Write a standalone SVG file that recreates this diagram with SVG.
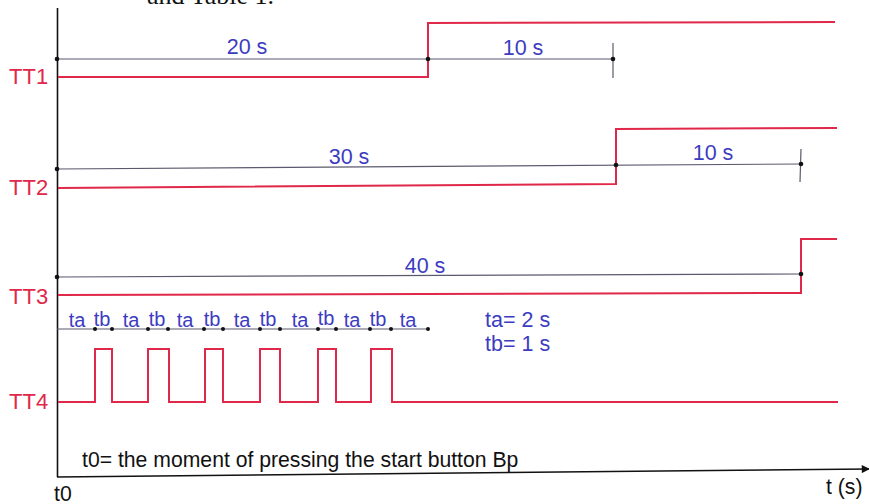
<svg xmlns="http://www.w3.org/2000/svg" width="869" height="504" viewBox="0 0 869 504">
<defs>
<style>
.sig{fill:none;stroke:#e0284a;stroke-width:2}
.dim{fill:none;stroke:#5a5a6e;stroke-width:1.2}
.ax{fill:none;stroke:#111;stroke-width:1.6}
.lbl{font-family:"Liberation Sans",Arial,sans-serif;font-size:22px;fill:#e0284a}
.blue{font-family:"Liberation Sans",Arial,sans-serif;font-size:21.5px;fill:#3c3cc0}
.blk{font-family:"Liberation Sans",Arial,sans-serif;font-size:21.2px;fill:#111}
.dot{fill:#111}
</style>
<marker id="arr" viewBox="0 0 10 10" refX="9" refY="5" markerWidth="11" markerHeight="8" markerUnits="userSpaceOnUse" orient="auto"><path d="M0,0 L10,5 L0,10 z" fill="#111"/></marker>
</defs>
<rect width="869" height="504" fill="#fff"/>
<text x="147" y="4" font-family="Liberation Serif,Times New Roman,serif" font-size="26" fill="#111">and Table 1.</text>

<g id="axes">
<line class="ax" x1="57.5" y1="8" x2="57.5" y2="477"/>
<line class="ax" x1="57" y1="477" x2="869" y2="469" marker-end="url(#arr)"/>
<text class="blk" x="54" y="501">t0</text>
<text class="blk" x="826" y="494">t (s)</text>
<text class="blk" x="82" y="467">t0= the moment of pressing the start button Bp</text>
</g>

<g id="TT1">
<text class="lbl" x="9" y="84">TT1</text>
<polyline class="sig" points="58,77 428,77 428,23 835,22"/>
</g>
<g id="TT2">
<text class="lbl" x="9" y="195">TT2</text>
<polyline class="sig" points="58,188 616,184 616,129 837,128"/>
</g>
<g id="TT3">
<text class="lbl" x="9" y="304">TT3</text>
<polyline class="sig" points="58,295 801,293 801,239 837,239"/>
</g>
<g id="TT4">
<text class="lbl" x="9" y="409">TT4</text>
<polyline class="sig" points="58,402 95,402 95,349 112,349 112,402 148,402 148,349 169,349 169,402 205,402 205,349 223,349 223,402 260,402 260,349 280,349 280,402 318,402 318,349 336,349 336,402 371,402 371,349 392,349 392,402 838,402"/>
</g>

<g id="connectors">
<line class="dim" x1="57" y1="59" x2="613" y2="59"/>
<line class="dim" x1="613" y1="43" x2="613" y2="78"/>
<circle class="dot" cx="57" cy="59" r="2.3"/>
<circle class="dot" cx="428" cy="59" r="2.3"/>
<circle class="dot" cx="613" cy="59" r="2.3"/>
<text class="blue" x="247" y="54" text-anchor="middle">20 s</text>
<text class="blue" x="523" y="55" text-anchor="middle">10 s</text>

<line class="dim" x1="57" y1="169" x2="801" y2="164"/>
<line class="dim" x1="801" y1="149" x2="800" y2="182"/>
<circle class="dot" cx="57" cy="169" r="2.3"/>
<circle class="dot" cx="616" cy="165" r="2.3"/>
<circle class="dot" cx="801" cy="164" r="2.3"/>
<text class="blue" x="349" y="164" text-anchor="middle">30 s</text>
<text class="blue" x="713" y="160" text-anchor="middle">10 s</text>

<line class="dim" x1="57" y1="277" x2="801" y2="274"/>
<circle class="dot" cx="57" cy="277" r="2.3"/>
<circle class="dot" cx="801" cy="274" r="2.3"/>
<text class="blue" x="425" y="273" text-anchor="middle">40 s</text>

<line class="dim" x1="57" y1="329" x2="428" y2="329"/>
<circle class="dot" cx="95" cy="329" r="2"/>
<circle class="dot" cx="112" cy="329" r="2"/>
<circle class="dot" cx="148" cy="329" r="2"/>
<circle class="dot" cx="168" cy="329" r="2"/>
<circle class="dot" cx="204" cy="329" r="2"/>
<circle class="dot" cx="223" cy="329" r="2"/>
<circle class="dot" cx="260" cy="329" r="2"/>
<circle class="dot" cx="280" cy="329" r="2"/>
<circle class="dot" cx="318" cy="329" r="2"/>
<circle class="dot" cx="336" cy="329" r="2"/>
<circle class="dot" cx="370" cy="329" r="2"/>
<circle class="dot" cx="391" cy="329" r="2"/>
<circle class="dot" cx="428" cy="329" r="2"/>
<g class="blue" text-anchor="middle" style="font-size:20px">
<text x="77" y="327">ta</text>
<text x="102" y="326">tb</text>
<text x="131" y="327">ta</text>
<text x="157" y="326">tb</text>
<text x="185" y="327">ta</text>
<text x="212" y="326">tb</text>
<text x="242" y="327">ta</text>
<text x="268" y="326">tb</text>
<text x="300" y="327">ta</text>
<text x="326" y="325">tb</text>
<text x="352" y="327">ta</text>
<text x="378" y="326">tb</text>
<text x="408" y="327">ta</text>
</g>
<text class="blue" x="485" y="327">ta= 2 s</text>
<text class="blue" x="485" y="351">tb= 1 s</text>
</g>
</svg>
